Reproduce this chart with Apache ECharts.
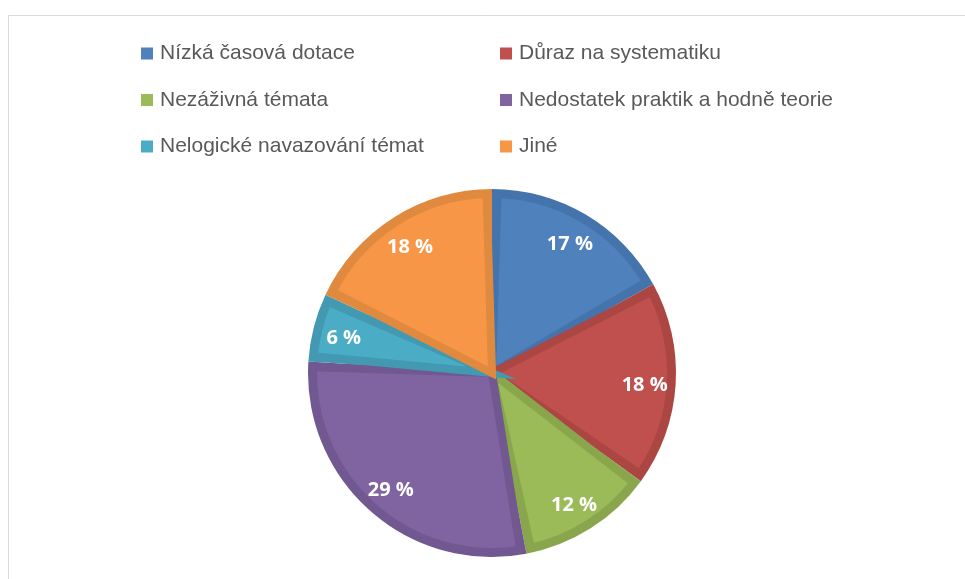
<!DOCTYPE html>
<html>
<head>
<meta charset="utf-8">
<script src="https://cdn.jsdelivr.net/npm/echarts@6/dist/echarts.min.js"></script>
<style>
  html, body { margin: 0; padding: 0; background: #fff; }
  #chart { width: 965px; height: 579px; }
</style>
</head>
<body>
<div id="chart"></div>
<script>
// categories and values (percent), clockwise from 12 o'clock
var categories = ['Nízká časová dotace', 'Důraz na systematiku', 'Nezáživná témata',
  'Nedostatek praktik a hodně teorie', 'Nelogické navazování témat', 'Jiné'];
var values = [17, 18, 12, 29, 6, 18];
var fillColors = ['#4F81BD', '#C0504D', '#9BBB59', '#8064A2', '#4BACC6', '#F79646'];
var edgeColors = ['#4573AB', '#AB4643', '#89A64D', '#715891', '#4299B1', '#E08A3F'];

var chart = echarts.init(document.getElementById('chart'));

// dark outer shape of each slice
var edgeData = categories.map(function (name, i) {
  return { name: name, value: values[i], itemStyle: { color: edgeColors[i] } };
});
// lighter inner fill, inset from the slice edges
var fillData = categories.map(function (name, i) {
  return { name: name, value: values[i], itemStyle: { color: fillColors[i], borderColor: edgeColors[i] } };
});

function legendItems(idx) {
  return idx.map(function (i) {
    return { name: categories[i], itemStyle: { color: fillColors[i], borderWidth: 0 } };
  });
}

var legendText = { color: '#595959', fontSize: 21, fontFamily: 'Liberation Sans', lineHeight: 21, padding: [0, 0, 0, 2] };
var legendBase = {
  orient: 'vertical',
  top: 43,
  padding: 0,
  icon: 'rect',
  itemWidth: 12,
  itemHeight: 12,
  itemGap: 25.5,
  itemStyle: { borderWidth: 0 },
  textStyle: legendText,
  selectedMode: false
};

chart.setOption({
  animation: false,
  graphic: [{
    type: 'rect',
    shape: { x: 8.5, y: 15.5, width: 1200, height: 1200 },
    style: { fill: 'none', stroke: '#d9d9d9', lineWidth: 1 },
    silent: true
  }],
  legend: [
    Object.assign({}, legendBase, { left: 141, data: legendItems([0, 2, 4]) }),
    Object.assign({}, legendBase, { left: 500, data: legendItems([1, 3, 5]) })
  ],
  series: [{
    type: 'pie',
    center: [492, 373],
    radius: [0, 184],
    startAngle: 90,
    clockwise: true,
    label: { show: false },
    labelLine: { show: false },
    emphasis: { disabled: true },
    data: edgeData
  }, {
    type: 'pie',
    center: [492, 373],
    radius: [0, 179],
    startAngle: 90,
    clockwise: true,
    padAngle: 3.5,
    silent: true,
    itemStyle: { borderWidth: 8, borderJoin: 'miter' },
    label: { show: false },
    labelLine: { show: false },
    emphasis: { disabled: true },
    data: fillData
  }, {
    // transparent ring only used to place the value labels
    type: 'pie',
    center: [492, 373],
    radius: [118, 182],
    startAngle: 90,
    clockwise: true,
    silent: true,
    itemStyle: { color: 'transparent', borderWidth: 0 },
    label: {
      show: true,
      position: 'inside',
      formatter: '{c} %',
      color: '#fff',
      fontSize: 20,
      fontWeight: 'bold',
      fontFamily: 'Open Sans',
      offset: [0, 3]
    },
    labelLine: { show: false },
    emphasis: { disabled: true },
    data: categories.map(function (name, i) { return { name: name, value: values[i] }; })
  }]
});
</script>
</body>
</html>
